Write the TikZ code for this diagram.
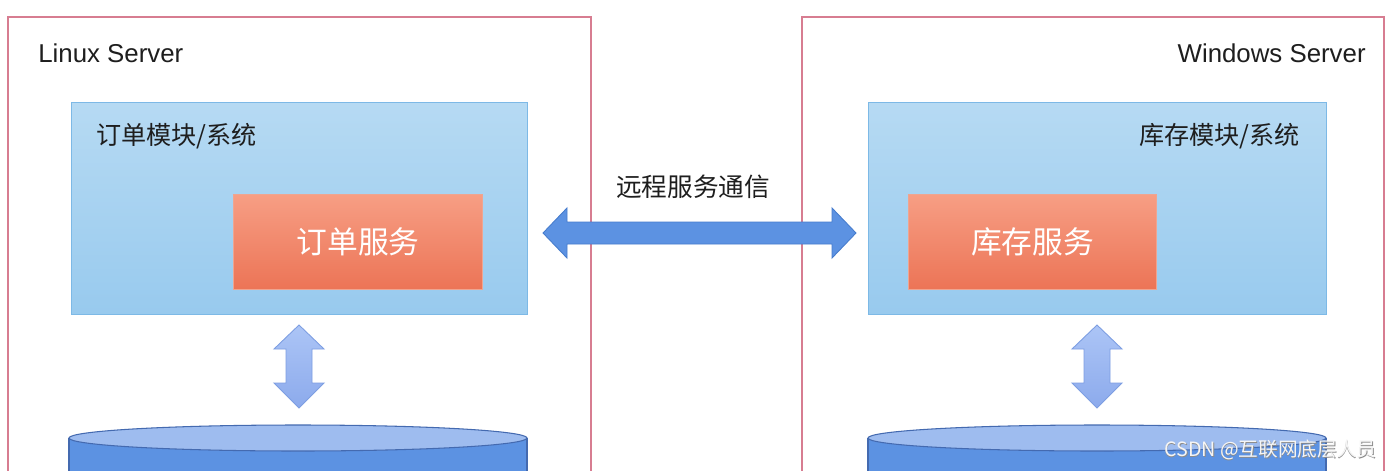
\documentclass[tikz,border=0pt]{standalone}
\usepackage{fontspec}
\setmainfont{Liberation Sans}
\newfontfamily\cjk{Noto Sans CJK SC}
\definecolor{srvborder}{RGB}{215,125,145}
\definecolor{modtop}{RGB}{182,218,243}
\definecolor{modbot}{RGB}{152,202,238}
\definecolor{modborder}{RGB}{125,185,230}
\definecolor{svctop}{RGB}{247,158,132}
\definecolor{svcbot}{RGB}{236,116,86}
\definecolor{svcborder}{RGB}{238,165,145}
\definecolor{harrow}{RGB}{92,146,226}
\definecolor{harrowb}{RGB}{70,124,205}
\definecolor{vtop}{RGB}{172,197,246}
\definecolor{vbot}{RGB}{140,170,236}
\definecolor{vborder}{RGB}{125,158,226}
\definecolor{cylbody}{RGB}{92,146,226}
\definecolor{cyltop}{RGB}{158,188,239}
\definecolor{cylborder}{RGB}{68,106,176}
\definecolor{txt}{RGB}{30,30,30}
\begin{document}
\begin{tikzpicture}[x=0.02cm,y=-0.02cm,
  server/.style={draw=srvborder,line width=0.7pt,fill=white},
  module/.style={draw=modborder,line width=0.7pt,top color=modtop,bottom color=modbot},
  service/.style={draw=svcborder,line width=0.7pt,top color=svctop,bottom color=svcbot},
  hlabel/.style={font=\fontsize{14.7pt}{16pt}\selectfont,text=txt,inner sep=0pt},
  cjklabel/.style={font=\cjk\fontsize{14.3pt}{16pt}\selectfont,text=txt,inner sep=0pt},
  svclabel/.style={font=\cjk\fontsize{17.5pt}{19pt}\selectfont,text=white,inner sep=0pt},
  harrowst/.style={fill=harrow,draw=harrowb,line width=0.5pt,line join=miter},
  varrowst/.style={top color=vtop,bottom color=vbot,draw=vborder,line width=0.5pt},
  cylbodyst/.style={fill=cylbody,draw=cylborder,line width=0.6pt},
  cyltopst/.style={fill=cyltop,draw=cylborder,line width=0.6pt},
  wmst/.style={font=\cjk\fontsize{11.2pt}{13pt}\selectfont,inner sep=0pt,anchor=east}]
\useasboundingbox (0,0) rectangle (1392,470);
\clip (0,0) rectangle (1392,470);
\fill[white] (0,0) rectangle (1392,470);
% servers
\draw[server] (8,17) rectangle (591,520);
\draw[server] (802,17) rectangle (1384,520);
\node[hlabel,anchor=base west] (linux) at (38,62) {Linux Server};
\node[hlabel,anchor=base east] (windows) at (1366,62) {Windows Server};
% modules
\node[module,minimum width=456*0.02cm,minimum height=212*0.02cm,anchor=north west,inner sep=0pt] (modL) at (71,102) {};
\node[module,minimum width=458*0.02cm,minimum height=212*0.02cm,anchor=north west,inner sep=0pt] (modR) at (868,102) {};
\node[cjklabel,anchor=west] (modLt) at (96,136) {订单模块/系统};
\node[cjklabel,anchor=east] (modRt) at (1300,136) {库存模块/系统};
% services
\node[service,minimum width=249*0.02cm,minimum height=95*0.02cm,anchor=north west,inner sep=0pt] (svcL) at (233,194) {};
\node[service,minimum width=248*0.02cm,minimum height=95*0.02cm,anchor=north west,inner sep=0pt] (svcR) at (908,194) {};
\node[svclabel] (svcLt) at (svcL.center) {订单服务};
\node[svclabel] (svcRt) at (svcR.center) {库存服务};
% remote arrow
\coordinate (hl) at (543,233);
\coordinate (hr) at (856,233);
\draw[harrowst] (hl) -- ++(24,-25) -- ++(0,14) -- ([xshift=-24*0.02cm,yshift=11*0.02cm]hr) -- ++(0,-14) -- (hr)
  -- ++(-24,25) -- ++(0,-14) -- ([xshift=24*0.02cm,yshift=-11*0.02cm]hl) -- ++(0,14) -- cycle;
\node[cjklabel,font=\cjk\fontsize{14.6pt}{16pt}\selectfont] (remote) at (693,187) {远程服务通信};
% vertical arrows
\foreach \cx/\nm in {299/vL,1097/vR}{
  \coordinate (\nm t) at (\cx,325);
  \coordinate (\nm b) at (\cx,408);
  \draw[varrowst] (\nm t) -- ++(25,24) -- ++(-12,0) -- ++(0,34) -- ++(12,0) -- (\nm b)
    -- ++(-25,-25) -- ++(12,0) -- ++(0,-34) -- ++(-12,0) -- cycle;
}
% cylinders
\foreach \cx/\nm in {298/cylL,1097/cylR}{
  \draw[cylbodyst] (\cx-229,438) -- (\cx-229,530) -- (\cx+229,530) -- (\cx+229,438);
  \draw[cyltopst] (\cx,438) ellipse [x radius=229*0.02cm,y radius=13*0.02cm];
  \coordinate (\nm) at (\cx,438);
}
% watermark
\node[wmst,text=black!45] (wm2) at (1377.6,450.6) {CSDN @互联网底层人员};
\node[wmst,text=white!92!gray] (wm) at (1377,450) {CSDN @互联网底层人员};
\end{tikzpicture}
\end{document}
